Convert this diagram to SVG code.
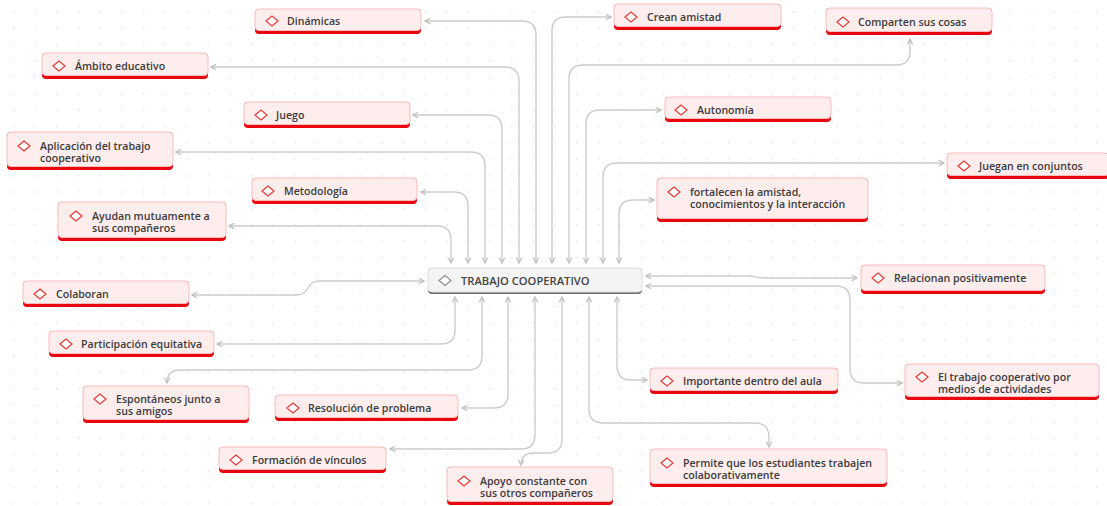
<svg xmlns="http://www.w3.org/2000/svg" width="1107" height="506" viewBox="0 0 1107 506">
<defs>
<pattern id="grid" x="12.7" y="10.9" width="21.67" height="16.4" patternUnits="userSpaceOnUse">
<circle cx="0.8" cy="0.8" r="0.8" fill="#dcdcdc"/>
</pattern>
<marker id="ar" viewBox="0 0 7 7" refX="6" refY="3.5" markerWidth="7" markerHeight="7" markerUnits="userSpaceOnUse" orient="auto-start-reverse">
<path d="M0.8,0.8 L6,3.5 L0.8,6.2" fill="none" stroke="#bdbdbd" stroke-width="1.2"/>
</marker>
<path id="dia" d="M-6,0 L0,-5 L6,0 L0,5 Z" fill="#fff" stroke="#e53935" stroke-width="1.2"/>
</defs>
<style>
.bg{fill:#ffffff}
.c path{fill:none;stroke:#cccccc;stroke-width:1.4;marker-start:url(#ar);marker-end:url(#ar)}
.band{fill:#e8060f}
.box{fill:#fdeded;stroke:#f8bcbc;stroke-width:1}
.t{font-family:"Open Sans","Liberation Sans",sans-serif;font-size:10.6px;font-weight:600;fill:#3b3b3b}
.ct{font-family:"Open Sans","Liberation Sans",sans-serif;font-size:11.2px;font-weight:600;fill:#444}
</style>
<rect class="bg" width="1107" height="506"/>
<rect width="1107" height="506" fill="url(#grid)"/>

<g class="c" id="connectors">
<path d="M425 21 H522 Q536 21 536 35 V263"/>
<path d="M211 67 H505 Q519 67 519 81 V263"/>
<path d="M413 115 H488 Q502 115 502 129 V263"/>
<path d="M176 152 H471 Q485 152 485 166 V263"/>
<path d="M421 192 H454 Q468 192 468 206 V263"/>
<path d="M229 226 H437 Q451 226 451 240 V263"/>
<path d="M611 17 H566 Q552 17 552 31 V263"/>
<path d="M910 39 V51 Q910 65 896 65 H583 Q569 65 569 79 V263"/>
<path d="M661 110 H600 Q586 110 586 124 V263"/>
<path d="M944 163 H617 Q603 163 603 177 V263"/>
<path d="M654 200 H633 Q619 200 619 214 V263"/>
<path d="M192 295 H296 C312 295 304 281 320 281 H424"/>
<path d="M857 278 H764 C754 278 756 276 748 276 H646"/>
<path d="M902 383 H864 Q850 383 850 369 V300 Q850 286 836 286 H646"/>
<path d="M455 297 V330 Q455 344 441 344 H217"/>
<path d="M482 297 V356 Q482 370 468 370 H180 Q167 370 167 383"/>
<path d="M508 297 V394 Q508 408 494 408 H462"/>
<path d="M535 297 V435 Q535 449 521 449 H390"/>
<path d="M562 297 V439 Q562 453 548 453 H534 Q521 453 521 465"/>
<path d="M617 297 V366 Q617 380 631 380 H647"/>
<path d="M589 297 V409 Q589 423 603 423 H755 Q769 423 769 437 V447"/>
</g>

<g id="center">
<rect x="428" y="268" width="214" height="26" rx="4" fill="#6e6e6e"/>
<rect x="428" y="268" width="214" height="24" rx="4" fill="#f4f4f4" stroke="#dcdcdc"/>
<path d="M439 280.5 L445 275.5 L451 280.5 L445 285.5 Z" fill="#fff" stroke="#8a8a8a" stroke-width="1.2"/>
<text class="ct" x="461" y="284.5">TRABAJO COOPERATIVO</text>
</g>

<g id="n-dinamicas"><rect class="band" x="255" y="9" width="166" height="25" rx="4"/><rect class="box" x="255" y="9" width="166" height="21.5" rx="4"/><use href="#dia" x="272" y="21"/><text class="t" x="287" y="25">Dinámicas</text></g>
<g id="n-ambito"><rect class="band" x="42" y="53" width="166" height="26" rx="4"/><rect class="box" x="42" y="53" width="166" height="22.5" rx="4"/><use href="#dia" x="59" y="66"/><text class="t" x="75" y="70">Ámbito educativo</text></g>
<g id="n-juego"><rect class="band" x="244" y="102" width="166" height="26" rx="4"/><rect class="box" x="244" y="102" width="166" height="22.5" rx="4"/><use href="#dia" x="261" y="115"/><text class="t" x="276" y="119">Juego</text></g>
<g id="n-aplicacion"><rect class="band" x="7" y="132" width="166" height="38" rx="4"/><rect class="box" x="7" y="132" width="166" height="34.5" rx="4"/><use href="#dia" x="24" y="146"/><text class="t" x="40" y="149.5">Aplicación del trabajo</text><text class="t" x="40" y="161.5">cooperativo</text></g>
<g id="n-metodologia"><rect class="band" x="252" y="178" width="165" height="26" rx="4"/><rect class="box" x="252" y="178" width="165" height="22.5" rx="4"/><use href="#dia" x="268" y="191"/><text class="t" x="284" y="195">Metodología</text></g>
<g id="n-ayudan"><rect class="band" x="58" y="202" width="168" height="39" rx="4"/><rect class="box" x="58" y="202" width="168" height="35.5" rx="4"/><use href="#dia" x="76" y="216"/><text class="t" x="92" y="220">Ayudan mutuamente a</text><text class="t" x="92" y="232">sus compañeros</text></g>
<g id="n-colaboran"><rect class="band" x="23" y="281" width="166" height="26" rx="4"/><rect class="box" x="23" y="281" width="166" height="22.5" rx="4"/><use href="#dia" x="40" y="294"/><text class="t" x="56" y="298">Colaboran</text></g>
<g id="n-participacion"><rect class="band" x="49" y="331" width="165" height="26" rx="4"/><rect class="box" x="49" y="331" width="165" height="22.5" rx="4"/><use href="#dia" x="66" y="344"/><text class="t" x="81" y="348">Participación equitativa</text></g>
<g id="n-espontaneos"><rect class="band" x="83" y="386" width="166" height="37" rx="4"/><rect class="box" x="83" y="386" width="166" height="33.5" rx="4"/><use href="#dia" x="100" y="399"/><text class="t" x="116" y="403">Espontáneos junto a</text><text class="t" x="116" y="415">sus amigos</text></g>
<g id="n-resolucion"><rect class="band" x="275" y="395" width="183" height="26" rx="4"/><rect class="box" x="275" y="395" width="183" height="22.5" rx="4"/><use href="#dia" x="293" y="408"/><text class="t" x="308" y="412">Resolución de problema</text></g>
<g id="n-formacion"><rect class="band" x="219" y="447" width="167" height="26" rx="4"/><rect class="box" x="219" y="447" width="167" height="22.5" rx="4"/><use href="#dia" x="236" y="460"/><text class="t" x="252" y="464">Formación de vínculos</text></g>
<g id="n-apoyo"><rect class="band" x="447" y="467" width="166" height="38" rx="4"/><rect class="box" x="447" y="467" width="166" height="34.5" rx="4"/><use href="#dia" x="464" y="481"/><text class="t" x="480" y="485">Apoyo constante con</text><text class="t" x="480" y="497">sus otros compañeros</text></g>
<g id="n-importante"><rect class="band" x="650" y="368" width="188" height="26" rx="4"/><rect class="box" x="650" y="368" width="188" height="22.5" rx="4"/><use href="#dia" x="667" y="381"/><text class="t" x="683" y="385">Importante dentro del aula</text></g>
<g id="n-permite"><rect class="band" x="650" y="449" width="237" height="38" rx="4"/><rect class="box" x="650" y="449" width="237" height="34.5" rx="4"/><use href="#dia" x="667" y="463"/><text class="t" x="683" y="467">Permite que los estudiantes trabajen</text><text class="t" x="683" y="479">colaborativamente</text></g>
<g id="n-eltrabajo"><rect class="band" x="905" y="364" width="194" height="36" rx="4"/><rect class="box" x="905" y="364" width="194" height="32.5" rx="4"/><use href="#dia" x="922" y="377"/><text class="t" x="938" y="381">El trabajo cooperativo por</text><text class="t" x="938" y="393">medios de actividades</text></g>
<g id="n-relacionan"><rect class="band" x="861" y="265" width="184" height="29" rx="4"/><rect class="box" x="861" y="265" width="184" height="25.5" rx="4"/><use href="#dia" x="878" y="278"/><text class="t" x="894" y="282">Relacionan positivamente</text></g>
<g id="n-fortalecen"><rect class="band" x="657" y="178" width="211" height="44" rx="4"/><rect class="box" x="657" y="178" width="211" height="40.5" rx="4"/><use href="#dia" x="674" y="192"/><text class="t" x="690" y="196">fortalecen la amistad,</text><text class="t" x="690" y="208">conocimientos y la interacción</text></g>
<g id="n-juegan"><rect class="band" x="947" y="153" width="162" height="26" rx="4"/><rect class="box" x="947" y="153" width="162" height="22.5" rx="4"/><use href="#dia" x="964" y="166"/><text class="t" x="979" y="170">Juegan en conjuntos</text></g>
<g id="n-autonomia"><rect class="band" x="665" y="97" width="166" height="25" rx="4"/><rect class="box" x="665" y="97" width="166" height="21.5" rx="4"/><use href="#dia" x="681" y="110"/><text class="t" x="697" y="113.5">Autonomía</text></g>
<g id="n-crean"><rect class="band" x="614" y="4" width="167" height="26" rx="4"/><rect class="box" x="614" y="4" width="167" height="22.5" rx="4"/><use href="#dia" x="631" y="17"/><text class="t" x="647" y="21">Crean amistad</text></g>
<g id="n-comparten"><rect class="band" x="826" y="8" width="166" height="27" rx="4"/><rect class="box" x="826" y="8" width="166" height="23.5" rx="4"/><use href="#dia" x="843" y="22"/><text class="t" x="858" y="25.5">Comparten sus cosas</text></g>
</svg>
